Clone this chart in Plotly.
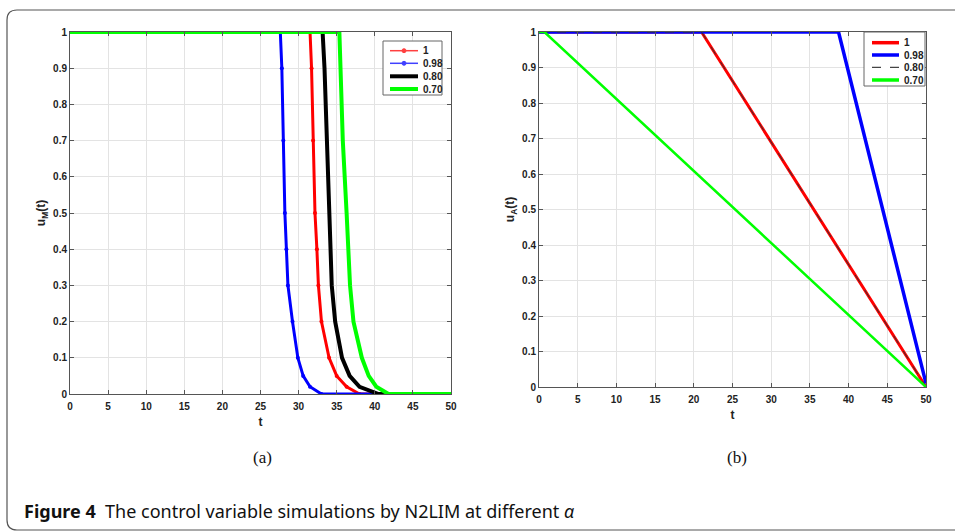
import plotly.graph_objects as go

# ---------------- data: panel (a) u_M(t) ----------------
series_names = ["1", "0.98", "0.80", "0.70"]

tM_1 = [0, 31.5, 31.7, 31.9, 32.15, 32.4, 32.6, 33.0, 34.0, 35.0, 36.3, 38.0, 50]
uM_1 = [1, 1, 0.9, 0.7, 0.5, 0.4, 0.3, 0.2, 0.1, 0.05, 0.02, 0, 0]

tM_098 = [0, 27.6, 27.8, 28.0, 28.2, 28.4, 28.6, 29.2, 29.9, 30.6, 31.5, 33.0, 50]
uM_098 = [1, 1, 0.9, 0.7, 0.5, 0.4, 0.3, 0.2, 0.1, 0.05, 0.02, 0, 0]

tM_080 = [0, 33.15, 33.4, 33.7, 34.0, 34.2, 34.35, 34.8, 35.7, 36.7, 38.0, 40.5, 50]
uM_080 = [1, 1, 0.9, 0.7, 0.5, 0.4, 0.3, 0.2, 0.1, 0.05, 0.02, 0, 0]

tM_070 = [0, 35.35, 35.5, 35.8, 36.3, 36.55, 36.75, 37.2, 38.3, 39.2, 40.2, 41.8, 50]
uM_070 = [1, 1, 0.9, 0.7, 0.5, 0.4, 0.3, 0.2, 0.1, 0.05, 0.02, 0, 0]

# ---------------- data: panel (b) u_A(t) ----------------
tA_1 = [0, 21, 50]
uA_1 = [1, 1, 0]
tA_098 = [0, 38.7, 50]
uA_098 = [1, 1, 0.01]
tA_080 = [0, 21, 50]
uA_080 = [1, 1, 0]
tA_070 = [0, 0.7, 50]
uA_070 = [1, 1, 0]

x_ticks = list(range(0, 51, 5))
y_ticks = [round(i * 0.1, 1) for i in range(11)]
y_tick_text = ["0", "0.1", "0.2", "0.3", "0.4", "0.5", "0.6", "0.7", "0.8", "0.9", "1"]

RED, BLUE, BLACK, GREEN = "#ff0000", "#0000ff", "#000000", "#00ff00"
W, H = 955, 532
FONT = "Liberation Sans"

fig = go.Figure()

# panel (a)
fig.add_trace(go.Scatter(x=tM_1, y=uM_1, name=series_names[0], mode="lines+markers",
                         line=dict(color=RED, width=3), marker=dict(size=4, color=RED),
                         xaxis="x", yaxis="y"))
fig.add_trace(go.Scatter(x=tM_098, y=uM_098, name=series_names[1], mode="lines+markers",
                         line=dict(color=BLUE, width=3), marker=dict(size=4, color=BLUE),
                         xaxis="x", yaxis="y"))
fig.add_trace(go.Scatter(x=tM_080, y=uM_080, name=series_names[2], mode="lines",
                         line=dict(color=BLACK, width=4), xaxis="x", yaxis="y"))
fig.add_trace(go.Scatter(x=tM_070, y=uM_070, name=series_names[3], mode="lines",
                         line=dict(color=GREEN, width=4), xaxis="x", yaxis="y"))

# panel (b)
fig.add_trace(go.Scatter(x=tA_1, y=uA_1, name=series_names[0], mode="lines",
                         line=dict(color=RED, width=3), xaxis="x2", yaxis="y2"))
fig.add_trace(go.Scatter(x=tA_098, y=uA_098, name=series_names[1], mode="lines",
                         line=dict(color=BLUE, width=3.5), xaxis="x2", yaxis="y2"))
fig.add_trace(go.Scatter(x=tA_080, y=uA_080, name=series_names[2], mode="lines",
                         line=dict(color="#333333", width=1, dash="dash"), xaxis="x2", yaxis="y2"))
fig.add_trace(go.Scatter(x=tA_070, y=uA_070, name=series_names[3], mode="lines",
                         line=dict(color=GREEN, width=2.5), xaxis="x2", yaxis="y2"))


def px_x(p):
    return p / W


def px_y(p):
    return 1 - p / H


axis_common = dict(
    showline=True, linecolor="#555555", linewidth=1, mirror="allticks",
    ticks="inside", ticklen=4, tickcolor="#555555", automargin=False,
    showgrid=True, gridcolor="#e3e3e3", gridwidth=1, zeroline=False,
    tickfont=dict(family=FONT, size=10, color="#222222", weight="bold"),
)
title_font = dict(family=FONT, size=12, color="#222222", weight="bold")

fig.update_layout(
    width=W, height=H,
    margin=dict(l=0, r=0, t=0, b=0, autoexpand=False),
    paper_bgcolor="white", plot_bgcolor="white",
    font=dict(family=FONT, color="#222222"),
    showlegend=False,
    xaxis=dict(domain=[px_x(70), px_x(451)], range=[0, 50], tickvals=x_ticks, ticklabelstandoff=3,
               title=dict(text="t", font=title_font, standoff=6),
               anchor="y", **axis_common),
    yaxis=dict(domain=[px_y(394), px_y(32)], range=[0, 1], tickvals=y_ticks, ticktext=y_tick_text,
               title=dict(text="u<sub>M</sub>(t)", font=title_font, standoff=4),
               anchor="x", **axis_common),
    xaxis2=dict(domain=[px_x(539), px_x(926)], range=[0, 50], tickvals=x_ticks, ticklabelstandoff=3,
                title=dict(text="t", font=title_font, standoff=6),
                anchor="y2", **axis_common),
    yaxis2=dict(domain=[px_y(387), px_y(32)], range=[0, 1], tickvals=y_ticks, ticktext=y_tick_text,
                title=dict(text="u<sub>A</sub>(t)", font=title_font, standoff=4),
                anchor="x2", **axis_common),
)


# ---------------- legends (drawn as boxes with samples) ----------------
def draw_legend(box, rows_y, line_x, text_x, styles):
    bx0, by0, bx1, by1 = box
    fig.add_shape(type="rect", xref="paper", yref="paper",
                  x0=px_x(bx0), x1=px_x(bx1), y0=px_y(by1), y1=px_y(by0),
                  line=dict(color="#666666", width=1), fillcolor="white", layer="above")
    for name, ry, st in zip(series_names, rows_y, styles):
        fig.add_shape(type="line", xref="paper", yref="paper",
                      x0=px_x(line_x[0]), x1=px_x(line_x[1]), y0=px_y(ry), y1=px_y(ry),
                      line=dict(color=st["color"], width=st["width"], dash=st.get("dash", "solid")),
                      layer="above")
        if st.get("marker"):
            mx = (line_x[0] + line_x[1]) / 2
            fig.add_shape(type="circle", xref="paper", yref="paper",
                          x0=px_x(mx - 2), x1=px_x(mx + 2), y0=px_y(ry + 2), y1=px_y(ry - 2),
                          line=dict(color=st["color"], width=1), fillcolor=st["color"], layer="above")
        fig.add_annotation(text=f"<b>{name}</b>", x=px_x(text_x), y=px_y(ry), xref="paper", yref="paper",
                           xanchor="left", yanchor="middle", showarrow=False,
                           font=dict(family=FONT, size=10, color="#222222"))


draw_legend((383, 41, 442, 95), [50.7, 63.3, 76.3, 89], (390, 418), 421,
            [dict(color="#ff4040", width=1.5, marker=True),
             dict(color="#4040ff", width=1.5, marker=True),
             dict(color=BLACK, width=4), dict(color=GREEN, width=4)])
draw_legend((864, 32, 925, 86), [42.7, 55, 67.3, 80], (872, 899), 902,
            [dict(color=RED, width=3.5), dict(color=BLUE, width=3.5),
             dict(color="#444444", width=1.2, dash="dash"), dict(color=GREEN, width=3.5)])

# rounded outer frame
x0, y0, x1, y1 = px_x(7), px_y(10), px_x(1000), px_y(530)
rx, ry = 10 / W, 10 / H
path = (f"M {x0},{y1 + ry} L {x0},{y0 - ry} Q {x0},{y0} {x0 + rx},{y0} L {x1},{y0} "
        f"M {x0},{y1 + ry} Q {x0},{y1} {x0 + rx},{y1} L {x1},{y1}")
fig.add_shape(type="path", path=path, xref="paper", yref="paper",
              line=dict(color="#555555", width=1.2), layer="below")

fig.add_annotation(text="(a)", x=px_x(262), y=px_y(457), xref="paper", yref="paper",
                   xanchor="center", yanchor="middle", showarrow=False,
                   font=dict(family="Liberation Serif", size=17, color="#111111"))
fig.add_annotation(text="(b)", x=px_x(737), y=px_y(457), xref="paper", yref="paper",
                   xanchor="center", yanchor="middle", showarrow=False,
                   font=dict(family="Liberation Serif", size=17, color="#111111"))
fig.add_annotation(text="<b>Figure 4</b>  The control variable simulations by N2LIM at different <i>α</i>",
                   x=px_x(22), y=px_y(511), xref="paper", yref="paper", xanchor="left", yanchor="middle",
                   showarrow=False, font=dict(family="Noto Sans", size=18, color="#111111"))

fig.write_html("out.html", config={"displayModeBar": False},
               post_script="document.body.style.margin='0';document.body.style.overflow='hidden';")
